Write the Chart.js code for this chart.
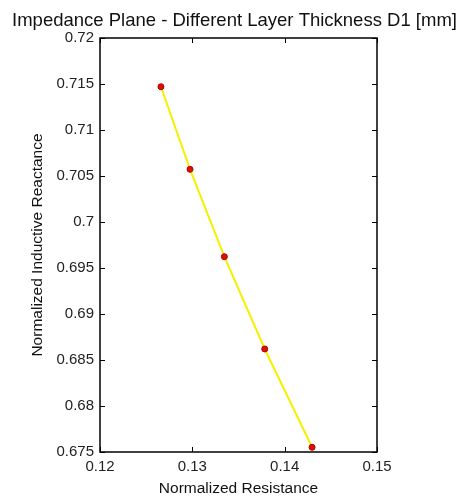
<!DOCTYPE html>
<html>
<head>
<meta charset="utf-8">
<script src="https://cdn.jsdelivr.net/npm/chart.js@4.4.1/dist/chart.umd.min.js"></script>
<style>
  html, body { margin: 0; padding: 0; background: #ffffff; }
  #wrap { width: 467px; height: 498px; }
</style>
</head>
<body>
<div id="wrap"><canvas id="c" width="467" height="498"></canvas></div>
<script>
const resistance = [0.1266, 0.12975, 0.13347, 0.13784, 0.14297];
const reactance = [0.7147, 0.70573, 0.69623, 0.6862, 0.67551];
const xTicks = [0.12, 0.13, 0.14, 0.15];
const xTickLabels = ['0.12', '0.13', '0.14', '0.15'];
const yTicks = [0.675, 0.68, 0.685, 0.69, 0.695, 0.7, 0.705, 0.71, 0.715, 0.72];
const yTickLabels = ['0.675', '0.68', '0.685', '0.69', '0.695', '0.7', '0.705', '0.71', '0.715', '0.72'];
const titleText = 'Impedance Plane - Different Layer Thickness D1 [mm]';
const xTitle = 'Normalized Resistance';
const yTitle = 'Normalized Inductive Reactance';

const points = resistance.map((x, i) => ({ x: x, y: reactance[i] }));
const FONT = '"Liberation Sans", Arial, sans-serif';

const boxTicks = {
  id: 'boxTicks',
  afterDraw(chart) {
    const ctx = chart.ctx;
    const a = chart.chartArea;
    const xs = chart.scales.x, ys = chart.scales.y;
    const len = 5;
    ctx.save();
    ctx.strokeStyle = '#000';
    ctx.lineWidth = 1;
    ctx.beginPath();
    xTicks.forEach(v => {
      const px = Math.round(xs.getPixelForValue(v)) + 0.5;
      ctx.moveTo(px, a.bottom); ctx.lineTo(px, a.bottom - len);
      ctx.moveTo(px, a.top); ctx.lineTo(px, a.top + len);
    });
    yTicks.forEach(v => {
      const py = Math.round(ys.getPixelForValue(v)) + 0.5;
      ctx.moveTo(a.left, py); ctx.lineTo(a.left + len, py);
      ctx.moveTo(a.right, py); ctx.lineTo(a.right - len, py);
    });
    ctx.stroke();
    ctx.lineWidth = 1.5;
    ctx.strokeRect(a.left, a.top, a.right - a.left, a.bottom - a.top);
    // chart title, centred on the whole canvas
    ctx.fillStyle = '#111';
    ctx.font = '18.5px ' + FONT;
    ctx.textAlign = 'center';
    ctx.textBaseline = 'alphabetic';
    ctx.fillText(titleText, chart.width / 2 + 1, 26);
    ctx.restore();
  }
};

new Chart(document.getElementById('c'), {
  type: 'scatter',
  data: {
    datasets: [{
      data: points,
      showLine: true,
      borderColor: '#f5f000',
      borderWidth: 2,
      pointRadius: 3,
      pointBackgroundColor: '#dd1100',
      pointBorderColor: '#b00000',
      pointBorderWidth: 1,
      tension: 0
    }]
  },
  options: {
    responsive: false,
    animation: false,
    devicePixelRatio: 1,
    layout: { padding: { top: 38, right: 90, bottom: 0, left: 0 } },
    plugins: {
      legend: { display: false },
      tooltip: { enabled: false },
      title: { display: false }
    },
    scales: {
      x: {
        type: 'linear',
        min: 0.12, max: 0.15,
        afterFit(s) { s.height = 46; },
        afterBuildTicks(s) { s.ticks = xTicks.map(v => ({ value: v })); },
        grid: { display: false, drawTicks: false },
        border: { display: false },
        ticks: {
          color: '#222',
          padding: 6,
          maxRotation: 0,
          font: { family: FONT, size: 15 },
          callback: (v) => { const i = xTicks.findIndex(t => Math.abs(t - v) < 1e-9); return i >= 0 ? xTickLabels[i] : ''; }
        },
        title: {
          display: true, text: xTitle, color: '#111',
          font: { family: FONT, size: 15.5 },
          padding: { top: 1, bottom: 0 }
        }
      },
      y: {
        type: 'linear',
        min: 0.675, max: 0.72,
        afterFit(s) { s.width = 100; },
        afterBuildTicks(s) { s.ticks = yTicks.map(v => ({ value: v })); },
        grid: { display: false, drawTicks: false },
        border: { display: false },
        ticks: {
          color: '#222',
          padding: 6,
          font: { family: FONT, size: 15 },
          callback: (v) => { const i = yTicks.findIndex(t => Math.abs(t - v) < 1e-9); return i >= 0 ? yTickLabels[i] : ''; }
        },
        title: {
          display: true, text: yTitle, color: '#111',
          font: { family: FONT, size: 15.5 },
          padding: { top: 28, bottom: 0 }
        }
      }
    }
  },
  plugins: [boxTicks]
});
</script>
</body>
</html>
